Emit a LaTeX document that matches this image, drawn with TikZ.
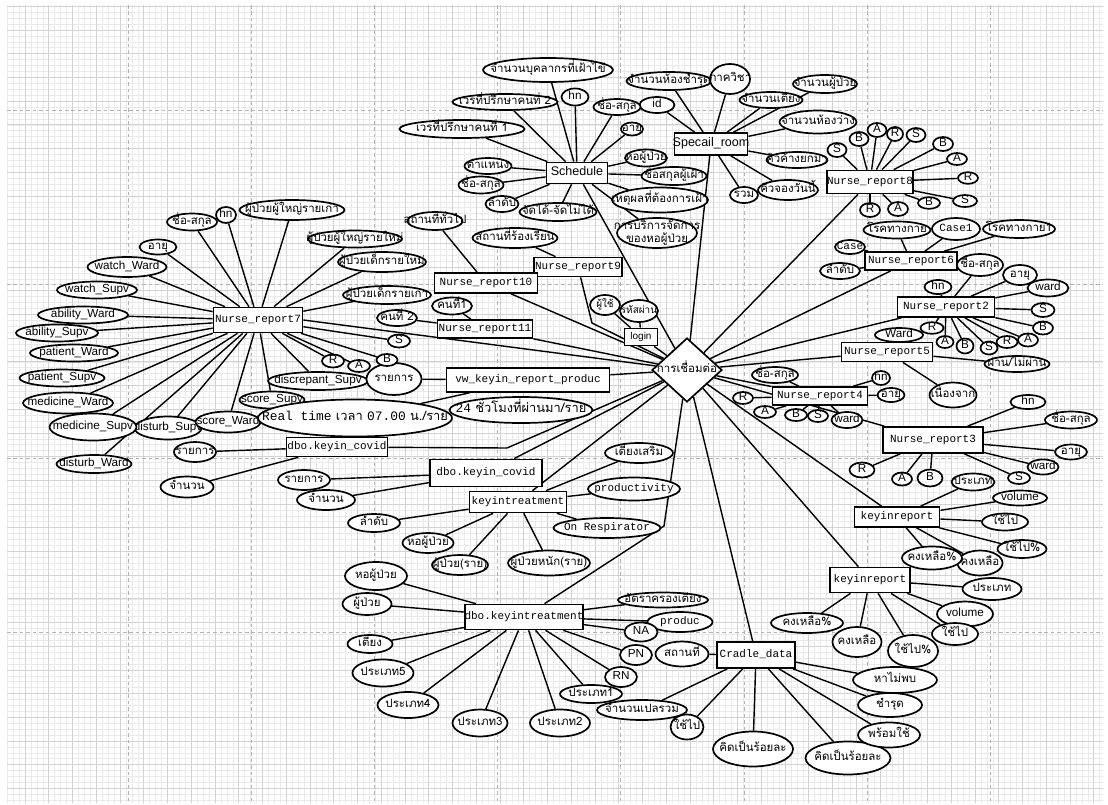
\documentclass[tikz,border=0pt]{standalone}
\usepackage{fontspec}
\setmainfont[Script=Thai]{Loma}
\setsansfont{Liberation Sans}
\setmonofont{Liberation Mono}
\usepackage{tikz}
\usetikzlibrary{shapes.geometric,backgrounds}
\definecolor{gridmajor}{RGB}{210,210,210}
\definecolor{gridminor}{RGB}{234,234,234}
\definecolor{pageline}{RGB}{180,180,180}
\newcommand\twoline[2]{\raisebox{-6pt}{\vbox{\baselineskip=11pt\lineskiplimit=-20pt\halign{\hfil##\hfil\cr#1\cr#2\cr}}}}

\begin{document}
\begin{tikzpicture}[x=0.03cm, y=-0.03cm, wh/.style 2 args={minimum width=#1*0.03cm, minimum height=#2*0.03cm}]
  \tikzstyle{base} = [draw, line width=1.45pt, fill=white, inner sep=0pt, text height=5.5pt, text depth=1.5pt,
    font=\fontsize{9.8}{11}\selectfont,
    execute at begin node={\hbox to 0pt\bgroup\hss}, execute at end node={\hss\egroup}]
  \tikzstyle{attr} = [base, ellipse]
  \tikzstyle{ent} = [base, rectangle, font=\fontsize{9.4}{10}\ttfamily\selectfont]
  \tikzstyle{sfent} = [base, rectangle, font=\fontsize{10.7}{11}\sffamily\selectfont]
  \tikzstyle{sf} = [font=\fontsize{10}{11}\sffamily\selectfont]
  \tikzstyle{tt} = [font=\fontsize{9.4}{10}\ttfamily\selectfont]
  \tikzstyle{big} = [font=\fontsize{11}{12}\selectfont]
  \tikzstyle{hub} = [base, diamond]
  \tikzstyle{conn} = [line width=1.2pt]
  \tikzstyle{gridminorline} = [gridminor, line width=0.5pt]
  \tikzstyle{gridmajorline} = [gridmajor, line width=0.6pt]
  \tikzstyle{pagebreak} = [pageline, line width=0.8pt, dash pattern=on 3pt off 2.5pt]

  \useasboundingbox (0,0) rectangle (1108,805);

  % hub
  \node[hub, wh={70}{64}] (hub) at (687,370) {การเชื่อมต่อ};

  % Nurse_report7
  \node[ent, wh={89}{25}] (nr7) at (258,320) {Nurse\_report7};
  \node[attr, wh={50}{17}] (n7name) at (192,222) {ชื่อ-สกุล};
  \node[attr, sf, wh={20}{16}] (n7hn) at (226,215) {hn};
  \node[attr, wh={105}{20}] (n7ao) at (292,210) {ผู้ป่วยผู้ใหญ่รายเก่า};
  \node[attr, wh={94}{17}] (n7an) at (355,239) {ผู้ป่วยผู้ใหญ่รายใหม่};
  \node[attr, wh={88}{20}] (n7cn) at (382,262) {ผู้ป่วยเด็กรายใหม่};
  \node[attr, wh={88}{18}] (n7co) at (387,295) {ผู้ป่วยเด็กรายเก่า};
  \node[attr, wh={37}{15}] (n7age) at (158,247) {อายุ};
  \node[attr, sf, wh={79}{20}] (n7ww) at (127,267) {watch\_Ward};
  \node[attr, sf, wh={80}{17}] (n7ws) at (97,290) {watch\_Supv};
  \node[attr, sf, wh={90}{17}] (n7aw) at (83,315) {ability\_Ward};
  \node[attr, sf, wh={82}{17}] (n7as) at (57,333) {ability\_Supv};
  \node[attr, sf, wh={88}{17}] (n7pw) at (74,353) {patient\_Ward};
  \node[attr, sf, wh={85}{17}] (n7ps) at (62,378) {patient\_Supv};
  \node[attr, sf, wh={90}{21}] (n7mw) at (68,403) {medicine\_Ward};
  \node[attr, sf, wh={67}{23}] (n7ds) at (168,428) {disturb\_Supv};
  \node[attr, sf, wh={87}{27}] (n7ms) at (93,427) {medicine\_Supv};
  \node[attr, sf, wh={75}{18}] (n7dw) at (94,464) {disturb\_Ward};
  \node[attr, sf, wh={65}{17}] (n7ss) at (272,400) {score\_Supv};
  \node[attr, sf, wh={65}{21}] (n7sw) at (228,422) {score\_Ward};
  \node[attr, sf, wh={100}{18}] (n7dc) at (318,381) {discrepant\_Supv};

  % vw_keyin_report_produc
  \node[attr, wh={55}{32}] (vwItem) at (394,379) {รายการ};
  \node[attr, sf, wh={22}{13}] (n7r) at (333,361) {R};
  \node[attr, sf, wh={22}{12}] (n7a) at (359,366) {A};
  \node[attr, sf, wh={21}{12}] (n7b) at (387,360) {B};
  \node[attr, sf, wh={22}{13}] (n7s) at (399,341) {S};
  \node[ent, wh={163}{24}] (vwkey) at (528,380) {vw\_keyin\_report\_produc};
  \node[attr, big, wh={194}{37}] (vwReal) at (355,418) {\texttt{Real time} เวลา \texttt{07.00} น./ราย};
  \node[attr, big, wh={143}{26}] (vw24) at (521,410) {\texttt{24} ชั่วโมงที่ผ่านมา/ราย};

  % dbo.keyin_covid
  \node[ent, wh={101}{19}] (covA) at (337,447) {dbo.keyin\_covid};
  \node[attr, wh={42}{20}] (covAitem) at (195,452) {รายการ};
  \node[attr, wh={53}{21}] (covAnum) at (187,487) {จำนวน};
  \node[ent, wh={112}{27}] (covB) at (486,473) {dbo.keyin\_covid};
  \node[attr, wh={52}{20}] (covBitem) at (304,480) {รายการ};
  \node[attr, wh={58}{20}] (covBnum) at (326,500) {จำนวน};

  % keyintreatment
  \node[ent, wh={97}{21}] (kint) at (518,502) {keyintreatment};
  \node[attr, wh={52}{18}] (kiNo) at (374,523) {ลำดับ};
  \node[attr, wh={51}{20}] (kiWard) at (428,543) {หอผู้ป่วย};
  \node[attr, wh={56}{20}] (kiPat) at (460,565) {ผู้ป่วย(ราย)};
  \node[attr, wh={82}{25}] (kiSev) at (549,563) {ผู้ป่วยหนัก(ราย)};
  \node[attr, tt, wh={107}{20}] (kiResp) at (607,528) {On Respirator};
  \node[attr, tt, wh={92}{23}] (kiProd) at (634,489) {productivity};
  \node[attr, wh={68}{20}] (kiExtra) at (639,453) {เตียงเสริม};

  % dbo.keyintreatment
  \node[ent, wh={118}{25}] (dbokint) at (524,617) {dbo.keyintreatment};
  \node[attr, wh={62}{28}] (dkWard) at (376,576) {หอผู้ป่วย};
  \node[attr, wh={49}{22}] (dkPat) at (367,604) {ผู้ป่วย};
  \node[attr, wh={45}{18}] (dkBed) at (370,644) {เตียง};
  \node[attr, wh={61}{27}] (dkT5) at (383,673) {ประเภท5};
  \node[attr, wh={61}{26}] (dkT4) at (408,705) {ประเภท4};
  \node[attr, wh={55}{27}] (dkT3) at (480,723) {ประเภท3};
  \node[attr, wh={60}{27}] (dkT2) at (560,723) {ประเภท2};
  \node[attr, wh={62}{18}] (dkT1) at (591,694) {ประเภท1};
  \node[attr, sf, wh={32}{20}] (dkRN) at (621,677) {RN};
  \node[attr, sf, wh={32}{20}] (dkPN) at (636,655) {PN};
  \node[attr, tt, wh={65}{20}] (dkProd) at (680,622) {produc};
  \node[attr, sf, wh={33}{19}] (dkNA) at (641,632) {NA};
  \node[attr, wh={90}{15}] (dkOcc) at (663,600) {อัตราครองเตียง};

  % Cradle_data
  \node[ent, wh={78}{26}] (cradle) at (756,655) {Cradle\_data};
  \node[attr, wh={53}{25}] (cdPlace) at (682,654) {สถานที่};
  \node[attr, wh={90}{20}] (cdTotal) at (642,710) {จำนวนเปลรวม};
  \node[attr, wh={33}{25}] (cdUsed) at (687,727) {ใช้ไป};
  \node[attr, wh={80}{35}] (cdPct1) at (753,749) {คิดเป็นร้อยละ};
  \node[attr, wh={85}{33}] (cdPct2) at (848,758) {คิดเป็นร้อยละ};
  \node[attr, wh={62}{25}] (cdReady) at (889,735) {พร้อมใช้};
  \node[attr, wh={64}{24}] (cdBroken) at (890,705) {ชำรุด};
  \node[attr, wh={84}{26}] (cdLost) at (895,680) {หาไม่พบ};

  % keyinreport
  \node[ent, wh={85}{20}] (kr1) at (897,517) {keyinreport};
  \node[attr, wh={43}{17}] (k1Type) at (973,482) {ประเภท};
  \node[attr, sf, wh={54}{15}] (k1Vol) at (1020,498) {volume};
  \node[attr, wh={46}{17}] (k1Used) at (1005,522) {ใช้ไป};
  \node[attr, wh={49}{18}] (k1UsedP) at (1022,549) {ใช้ไป\%};
  \node[attr, wh={45}{25}] (k1Left) at (980,563) {คงเหลือ};
  \node[attr, wh={60}{23}] (k1LeftP) at (932,558) {คงเหลือ\%};
  \node[ent, wh={80}{25}] (kr2) at (870,580) {keyinreport};
  \node[attr, wh={59}{22}] (k2Type) at (992,589) {ประเภท};
  \node[attr, sf, wh={56}{25}] (k2Vol) at (965,614) {volume};
  \node[attr, wh={46}{22}] (k2Used) at (955,634) {ใช้ไป};
  \node[attr, wh={50}{32}] (k2UsedP) at (913,651) {ใช้ไป\%};
  \node[attr, wh={49}{30}] (k2Left) at (857,642) {คงเหลือ};
  \node[attr, wh={72}{20}] (k2LeftP) at (807,623) {คงเหลือ\%};

  % Nurse_report3
  \node[ent, wh={100}{26}] (nr3) at (933,440) {Nurse\_report3};
  \node[attr, sf, wh={35}{14}] (n3Hn) at (1028,402) {hn};
  \node[attr, wh={52}{17}] (n3Name) at (1071,420) {ชื่อ-สกุล};
  \node[attr, wh={32}{15}] (n3Age) at (1071,452) {อายุ};
  \node[attr, sf, wh={31}{15}] (n3Ward) at (1043,467) {ward};
  \node[attr, sf, wh={22}{12}] (n3S) at (1019,478) {S};
  \node[attr, sf, wh={25}{17}] (n3B) at (930,478) {B};
  \node[attr, sf, wh={20}{13}] (n3A) at (902,479) {A};
  \node[attr, sf, wh={25}{15}] (n3R) at (862,470) {R};

  % Nurse_report4
  \node[ent, wh={95}{18}] (nr4) at (820,396) {Nurse\_report4};
  \node[attr, wh={46}{16}] (n4Name) at (775,375) {ชื่อ-สกุล};
  \node[attr, sf, wh={20}{12}] (n4R) at (743,398) {R};
  \node[attr, sf, wh={22}{12}] (n4A) at (765,412) {A};
  \node[attr, sf, wh={22}{12}] (n4B) at (796,415) {B};
  \node[attr, sf, wh={20}{12}] (n4S) at (818,416) {S};
  \node[attr, sf, wh={31}{16}] (n4Ward) at (847,420) {ward};
  \node[attr, sf, wh={18}{14}] (n4Hn) at (881,378) {hn};
  \node[attr, wh={27}{14}] (n4Age) at (891,395) {อายุ};

  % Nurse_report5
  \node[attr, sf, wh={48}{14}] (n5Ward) at (899,335) {Ward};
  \node[ent, wh={91}{19}] (nr5) at (887,352) {Nurse\_report5};
  \node[attr, wh={65}{16}] (n5Pass) at (1017,364) {ผ่าน/ไม่ผ่าน};
  \node[attr, wh={47}{25}] (n5Why) at (953,395) {เนื่องจาก};

  % Nurse_report2
  \node[ent, wh={97}{20}] (nr2) at (946,307) {Nurse\_report2};
  \node[attr, wh={46}{22}] (n2Name) at (980,265) {ชื่อ-สกุล};
  \node[attr, wh={34}{20}] (n2Age) at (1020,275) {อายุ};
  \node[attr, sf, wh={27}{14}] (n2Hn) at (938,287) {hn};
  \node[attr, sf, wh={41}{17}] (n2Ward) at (1048,288) {ward};
  \node[attr, sf, wh={23}{14}] (n2S1) at (1043,310) {S};
  \node[attr, sf, wh={20}{13}] (n2B1) at (1043,328) {B};
  \node[attr, sf, wh={20}{13}] (n2A1) at (1028,340) {A};
  \node[attr, sf, wh={21}{12}] (n2R1) at (1007,342) {R};
  \node[attr, sf, wh={17}{13}] (n2S2) at (989,348) {S};
  \node[attr, sf, wh={17}{15}] (n2B2) at (965,346) {B};
  \node[attr, sf, wh={17}{12}] (n2A2) at (945,342) {A};
  \node[attr, sf, wh={23}{11}] (n2R2) at (932,328) {R};

  % Nurse_report6
  \node[ent, wh={92}{18}] (nr6) at (911,261) {Nurse\_report6};
  \node[attr, tt, wh={30}{14}] (n6Case) at (850,247) {Case};
  \node[attr, wh={40}{16}] (n6No) at (840,271) {ลำดับ};
  \node[attr, wh={67}{17}] (n6Dis) at (897,230) {โรคทางกาย};
  \node[attr, tt, wh={48}{22}] (n6Case1) at (956,229) {Case1};
  \node[attr, wh={72}{18}] (n6Dis1) at (1019,229) {โรคทางกาย1};

  % Nurse_report8
  \node[ent, wh={86}{23}] (nr8) at (870,182) {Nurse\_report8};
  \node[attr, sf, wh={19}{14}] (n8a) at (837,150) {S};
  \node[attr, sf, wh={19}{14}] (n8b) at (859,139) {B};
  \node[attr, sf, wh={19}{14}] (n8c) at (877,130) {A};
  \node[attr, sf, wh={16}{14}] (n8d) at (895,134) {R};
  \node[attr, sf, wh={19}{14}] (n8e) at (916,135) {S};
  \node[attr, sf, wh={20}{14}] (n8f) at (943,144) {B};
  \node[attr, sf, wh={20}{12}] (n8g) at (957,159) {A};
  \node[attr, sf, wh={20}{11}] (n8h) at (968,178) {R};
  \node[attr, sf, wh={24}{12}] (n8i) at (965,201) {S};
  \node[attr, sf, wh={22}{11}] (n8j) at (929,203) {B};
  \node[attr, sf, wh={20}{14}] (n8k) at (898,209) {A};
  \node[attr, sf, wh={20}{14}] (n8l) at (870,210) {R};

  % Specail_room
  \node[sfent, wh={73}{22}] (sroom) at (711,144) {Specail\_room};
  \node[attr, sf, wh={35}{16}] (rId) at (657,105) {id};
  \node[attr, wh={85}{18}] (rBroken) at (669,81) {จำนวนห้องชำรุด};
  \node[attr, wh={40}{30}] (rDept) at (730,79) {ภาควิชา};
  \node[attr, wh={63}{16}] (rBeds) at (771,100) {จำนวนเตียง};
  \node[attr, wh={64}{18}] (rPat) at (825,84) {จำนวนผู้ป่วย};
  \node[attr, wh={77}{23}] (rFree) at (818,122) {จำนวนห้องว่าง};
  \node[attr, wh={61}{16}] (rCarry) at (797,160) {คิวค้างยกมา};
  \node[attr, wh={60}{20}] (rToday) at (788,190) {คิวจองวันนี้};
  \node[attr, wh={28}{16}] (rSum) at (744,195) {รวม};

  % Schedule
  \node[sfent, wh={61}{21}] (sched) at (577,173) {Schedule};
  \node[attr, wh={130}{24}] (sStaff) at (548,70) {จำนวนบุคลากรที่เฝ้าไข้};
  \node[attr, wh={105}{16}] (sAdv2) at (505,102) {เวรที่ปรึกษาคนที่ 2};
  \node[attr, sf, wh={27}{17}] (sHn) at (575,97) {hn};
  \node[attr, wh={47}{16}] (sName1) at (617,107) {ชื่อ-สกุล};
  \node[attr, wh={22}{13}] (sAge) at (632,129) {อายุ};
  \node[attr, wh={125}{18}] (sAdv1) at (462,129) {เวรที่ปรึกษาคนที่ 1};
  \node[attr, wh={47}{16}] (sPos) at (488,166) {ตำแหน่ง};
  \node[attr, wh={45}{17}] (sName2) at (481,185) {ชื่อ-สกุล};
  \node[attr, wh={33}{16}] (sNo) at (502,204) {ลำดับ};
  \node[attr, wh={77}{18}] (sOk) at (558,212) {จัดได้-จัดไม่ได้};
  \node[attr, wh={42}{17}] (sWard) at (646,158) {หอผู้ป่วย};
  \node[attr, wh={65}{18}] (sSitter) at (674,176) {ชื่อสกุลผู้เฝ้า};
  \node[attr, wh={96}{25}] (sReason) at (660,200) {เหตุผลที่ต้องการเฝ้า};
  \node[attr, wh={80}{30}] (sMgmt) at (657,233) {\twoline{การบริการจัดการ}{ของหอผู้ป่วย}};

  % Nurse_report9 / 10 / 11, login
  \node[attr, wh={85}{20}] (n9Comp) at (515,238) {สถานที่ร้องเรียน};
  \node[ent, wh={88}{19}] (nr9) at (578,267) {Nurse\_report9};
  \node[attr, wh={55}{18}] (n10Gen) at (435,221) {สถานที่ทั่วไป};
  \node[ent, wh={103}{20}] (nr10) at (486,283) {Nurse\_report10};
  \node[attr, wh={40}{17}] (n11a) at (452,306) {คนที่1};
  \node[attr, wh={40}{16}] (n11b) at (397,318) {คนที่ 2};
  \node[ent, wh={95}{18}] (nr11) at (485,329) {Nurse\_report11};
  \node[attr, font=\fontsize{8.5}{9}\selectfont, wh={30}{20}] (lgUser) at (605,305) {ผู้ใช้};
  \node[attr, font=\fontsize{8.5}{9}\selectfont, wh={38}{22}] (lgPass) at (639,311) {รหัสผ่าน};
  \node[base, rectangle, font=\fontsize{8.5}{9}\sffamily\selectfont, wh={33}{17}] (login) at (641,337) {login};

  \coordinate (nr9bend) at (592,323);
  \coordinate (covAbend) at (507,448);
  \coordinate (dkbend) at (664,526);

  \begin{scope}[on background layer]
    % grid
    \foreach \i in {1,...,185}
      \draw[gridminorline] (1.25+5.9375*\i,5) -- (1.25+5.9375*\i,803);
    \foreach \j in {0,...,134}
      \draw[gridminorline] (7,6.3+5.925*\j) -- (1103,6.3+5.925*\j);
    \foreach \i in {1,...,46}
      \draw[gridmajorline] (1.25+23.75*\i,5) -- (1.25+23.75*\i,803);
    \foreach \j in {0,...,33}
      \draw[gridmajorline] (7,6.3+23.7*\j) -- (1103,6.3+23.7*\j);
    \foreach \i in {0,...,7}
      \draw[pagebreak] (128+123.2*\i,5) -- (128+123.2*\i,803);
    \foreach \j in {0,...,3}
      \draw[pagebreak] (7,110+174*\j) -- (1103,110+174*\j);

    % attributes
    \foreach \a in {n7name,n7hn,n7ao,n7an,n7cn,n7co,n7age,n7ww,n7ws,n7aw,n7as,n7pw,n7ps,n7mw,n7ms,n7ds,n7dw,n7sw,n7ss,n7dc,n7r,n7a,n7b,n7s}
      \draw[conn] (nr7) -- (\a);
    \foreach \a in {vwItem,vwReal}
      \draw[conn] (vwkey) -- (\a);
    \foreach \a in {covAitem,covAnum}
      \draw[conn] (covA) -- (\a);
    \foreach \a in {covBitem,covBnum}
      \draw[conn] (covB) -- (\a);
    \foreach \a in {kiNo,kiWard,kiPat,kiSev,kiResp,kiProd,kiExtra}
      \draw[conn] (kint) -- (\a);
    \foreach \a in {dkWard,dkPat,dkBed,dkT5,dkT4,dkT3,dkT2,dkT1,dkRN,dkPN,dkNA,dkProd,dkOcc}
      \draw[conn] (dbokint) -- (\a);
    \foreach \a in {cdPlace,cdTotal,cdUsed,cdPct1,cdPct2,cdReady,cdBroken,cdLost}
      \draw[conn] (cradle) -- (\a);
    \foreach \a in {k1Type,k1Vol,k1Used,k1UsedP,k1Left,k1LeftP}
      \draw[conn] (kr1) -- (\a);
    \foreach \a in {k2Type,k2Vol,k2Used,k2UsedP,k2Left,k2LeftP}
      \draw[conn] (kr2) -- (\a);
    \foreach \a in {n3Hn,n3Name,n3Age,n3Ward,n3S,n3B,n3A,n3R}
      \draw[conn] (nr3) -- (\a);
    \foreach \a in {n4Name,n4R,n4A,n4B,n4S,n4Ward,n4Hn,n4Age}
      \draw[conn] (nr4) -- (\a);
    \foreach \a in {n5Pass,n5Why}
      \draw[conn] (nr5) -- (\a);
    \foreach \a in {n2Name,n2Age,n2Hn,n2Ward,n2S1,n2B1,n2A1,n2R1,n2S2,n2B2,n2A2,n2R2}
      \draw[conn] (nr2) -- (\a);
    \foreach \a in {n6Case,n6No,n6Dis,n6Case1,n6Dis1}
      \draw[conn] (nr6) -- (\a);
    \foreach \a in {n8a,n8b,n8c,n8d,n8e,n8f,n8g,n8h,n8i,n8j,n8k,n8l}
      \draw[conn] (nr8) -- (\a);
    \foreach \a in {rId,rBroken,rDept,rBeds,rPat,rFree,rCarry,rToday,rSum}
      \draw[conn] (sroom) -- (\a);
    \foreach \a in {sStaff,sAdv2,sHn,sName1,sAge,sAdv1,sPos,sName2,sNo,sOk,sWard,sSitter,sReason,sMgmt}
      \draw[conn] (sched) -- (\a);
    \draw[conn] (nr9) -- (n9Comp);
    \draw[conn] (nr10) -- (n10Gen);
    \draw[conn] (nr11) -- (n11a);
    \draw[conn] (nr11) -- (n11b);
    \draw[conn] (login) -- (lgUser);
    \draw[conn] (login) -- (lgPass);

    % links to the hub
    \draw[conn] (nr7.east) -- (hub);
    \foreach \e in {nr10,nr11,login,sched,sroom,nr8,nr6,nr2,nr5,nr4,nr3,kr1,kr2,cradle,kint,covB,vwkey}
      \draw[conn] (\e) -- (hub);
    \draw[conn] (nr9) -- (nr9bend) -- (hub);
    \draw[conn] (covA) -- (covAbend) -- (hub);
    \draw[conn] (dbokint) -- (dkbend) -- (hub);
  \end{scope}
\end{tikzpicture}
\end{document}
